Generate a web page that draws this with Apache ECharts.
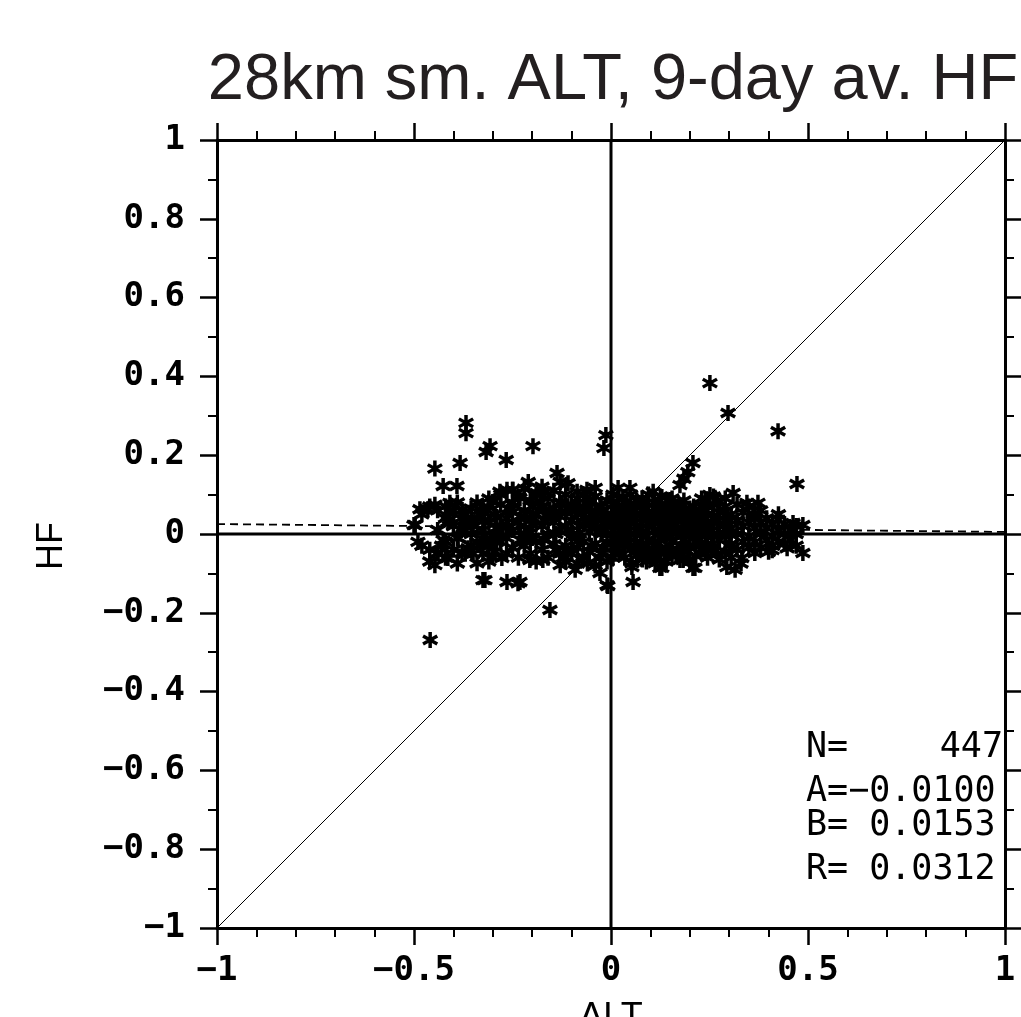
<!DOCTYPE html>
<html>
<head>
<meta charset="utf-8">
<script src="https://cdn.jsdelivr.net/npm/echarts@6/dist/echarts.min.js"></script>
<style>
html,body{margin:0;padding:0;background:#fff;}
#chart{width:1021px;height:1017px;}
</style>
</head>
<body>
<div id="chart"></div>
<script>
// ---------- data ----------
const titleText = '28km sm. ALT, 9-day av. HF';
const xName = 'ALT';
const yName = 'HF';
const xTicks = [-1, -0.5, 0, 0.5, 1];
const yTicks = [-1, -0.8, -0.6, -0.4, -0.2, 0, 0.2, 0.4, 0.6, 0.8, 1];
const statLabels = ['N=', 'A=', 'B=', 'R='];
const statValues = ['447', '\u22120.0100', ' 0.0153', ' 0.0312'];
const regA = -0.0100;   // slope shown as A
const regB = 0.0153;    // intercept shown as B
const diagonalLine = [[-1, -1], [1, 1]];
const zeroH = [[-1, 0], [1, 0]];
const zeroV = [[0, -1], [0, 1]];
const regLine = [[-1, regB - regA], [1, regB + regA]];

// scatter points [ALT, HF]
const scatterPoints = [
  // outliers / edges
  [-0.459,-0.269],[-0.368,0.282],[-0.368,0.256],[-0.317,0.208],[-0.307,0.223],
  [-0.383,0.18],[-0.447,0.166],[-0.426,0.122],[-0.391,0.122],[-0.266,0.188],
  [-0.198,0.223],[-0.013,0.251],[-0.018,0.218],[0.251,0.383],[0.297,0.307],
  [0.424,0.261],[0.472,0.127],[0.208,0.18],[0.195,0.157],[0.175,0.124],[0.185,0.14],
  [-0.137,0.155],[-0.21,0.132],[-0.25,0.112],[-0.04,0.117],[-0.17,0.107],
  [-0.264,-0.122],[-0.231,-0.122],[-0.155,-0.193],[-0.091,-0.091],[-0.008,-0.132],[-0.028,-0.061],
  [-0.32,-0.117],[-0.34,-0.074],[-0.447,-0.079],[-0.49,-0.02],[-0.5,0.023],[-0.485,0.063],
  [-0.465,0.063],[-0.447,0.074],[-0.409,0.079],[-0.41,0.036],[-0.41,0.058],
  [0.056,-0.122],[0.053,-0.084],[0.112,-0.074],[0.129,-0.086],[0.213,-0.086],[0.294,-0.084],
  [0.315,-0.091],[0.332,-0.061],[0.365,-0.048],[0.409,-0.041],[0.447,-0.036],[0.487,-0.048],
  [0.487,0.023],[0.462,0.028],[0.424,0.036],[0.373,0.079],[0.345,0.079],[0.31,0.104],
  [0.251,0.099],[0.175,-0.066],[0.018,0.117],[0.048,0.117],[0.107,0.107],[0.15,0.086],[0.175,0.069],
  [-0.378,0.061],[-0.332,0.061],[-0.312,0.069],[-0.282,0.107],[-0.264,0.112],[-0.3,0.081],
  [-0.353,0.036],[-0.29,0.043],[-0.426,-0.015],[-0.388,-0.01],[-0.439,-0.048],[-0.414,-0.061],
  [-0.378,-0.048],[-0.363,-0.036],[-0.332,-0.028],[-0.315,-0.015],[-0.29,-0.02],[-0.3,-0.058],
  [-0.277,-0.061],[-0.366,0.018],[-0.236,-0.125],[-0.497,0.023],[-0.414,0.03],
  [-0.249,0.112],[-0.231,0.091],[-0.188,0.104],[-0.168,0.107],[-0.129,0.132],[-0.109,0.129],
  [-0.086,0.107],[-0.061,0.112],[-0.053,0.086],[-0.028,0.069],[-0.256,0.061],[-0.198,0.069],
  [-0.18,0.081],[-0.155,0.061],[-0.124,0.079],[-0.099,0.061],[-0.074,0.053],[-0.048,0.036],
  [-0.01,0.028],[-0.274,0.018],[-0.218,-0.015],[-0.206,-0.066],[-0.173,-0.066],[-0.129,-0.079],
  [-0.071,-0.058],[-0.028,-0.099],[-0.01,-0.13],
  [0.079,0.091],[0.091,0.079],[0.129,0.094],[0.239,0.086],[0.246,0.069],[0.03,0.094],
  [0.018,0.061],[0.053,0.061],[0.112,0.043],[0.155,0.036],[0.053,-0.074],[0.104,-0.058],
  [0.124,-0.086],[0.208,-0.086],[0.183,-0.066],[0.239,-0.048],
  // main band, left part
  [-0.48,0.05],[-0.48,-0.03],
  [-0.46,0.07],[-0.46,-0.04],[-0.46,-0.07],
  [-0.44,0.06],[-0.44,0.01],[-0.44,-0.05],
  [-0.42,0.04],[-0.42,-0.02],[-0.42,-0.06],[-0.42,0.07],
  [-0.40,0.02],[-0.40,-0.04],[-0.40,0.06],
  [-0.39,-0.01],[-0.39,0.08],
  [-0.37,0.03],[-0.37,-0.05],[-0.37,0.05],
  [-0.355,0.0],[-0.355,-0.03],[-0.355,0.065],
  [-0.34,0.04],[-0.34,-0.02],[-0.34,0.08],
  [-0.325,0.01],[-0.325,-0.05],[-0.325,0.055],
  [-0.31,0.03],[-0.31,-0.03],[-0.31,0.09],[-0.31,-0.07],
  [-0.295,0.0],[-0.295,0.05],[-0.295,-0.045],
  [-0.28,0.02],[-0.28,-0.02],[-0.28,0.075],[-0.28,0.10],
  [-0.265,0.04],[-0.265,-0.05],[-0.265,-0.01],
  [-0.25,0.08],[-0.25,0.01],[-0.25,-0.035],[-0.25,0.055],
  [-0.235,-0.06],[-0.235,0.03],[-0.235,0.095],
  [-0.22,0.0],[-0.22,0.06],[-0.22,-0.03],[-0.22,0.115],
  [-0.205,0.04],[-0.205,-0.05],[-0.205,0.085],[-0.205,0.015],
  [-0.19,-0.02],[-0.19,0.05],[-0.19,0.1],[-0.19,-0.07],
  [-0.175,0.02],[-0.175,-0.04],[-0.175,0.07],[-0.175,0.12],
  [-0.16,0.0],[-0.16,0.045],[-0.16,-0.06],[-0.16,0.09],
  [-0.145,0.03],[-0.145,-0.025],[-0.145,0.11],[-0.145,0.065],
  [-0.13,-0.05],[-0.13,0.01],[-0.13,0.08],[-0.13,0.045],
  [-0.115,0.02],[-0.115,-0.03],[-0.115,0.1],[-0.115,0.055],[-0.115,-0.07],
  [-0.10,0.035],[-0.10,-0.01],[-0.10,0.075],[-0.10,-0.05],
  [-0.085,0.0],[-0.085,0.05],[-0.085,0.09],[-0.085,-0.035],[-0.085,-0.075],
  [-0.07,0.025],[-0.07,-0.02],[-0.07,0.065],[-0.07,0.1],[-0.07,-0.06],
  [-0.055,0.04],[-0.055,-0.045],[-0.055,0.005],[-0.055,0.08],
  [-0.04,0.015],[-0.04,0.055],[-0.04,-0.025],[-0.04,-0.08],[-0.04,0.095],
  [-0.025,0.0],[-0.025,0.035],[-0.025,-0.05],[-0.025,0.07],
  [-0.01,0.02],[-0.01,-0.02],[-0.01,0.05],[-0.01,-0.07],[-0.01,0.085],
  // main band, right part
  [0.005,0.01],[0.005,0.045],[0.005,-0.035],[0.005,0.075],[0.005,-0.06],[0.005,0.1],
  [0.02,-0.01],[0.02,0.03],[0.02,0.06],[0.02,-0.045],[0.02,0.09],
  [0.035,0.015],[0.035,-0.025],[0.035,0.045],[0.035,-0.06],[0.035,0.08],
  [0.05,0.0],[0.05,0.035],[0.05,0.065],[0.05,-0.04],[0.05,0.1],
  [0.065,0.02],[0.065,-0.02],[0.065,0.05],[0.065,-0.055],[0.065,0.085],
  [0.08,0.005],[0.08,0.04],[0.08,-0.035],[0.08,0.07],[0.08,-0.065],
  [0.095,0.025],[0.095,-0.015],[0.095,0.055],[0.095,-0.05],[0.095,0.1],
  [0.11,0.01],[0.11,0.045],[0.11,-0.03],[0.11,0.08],[0.11,-0.06],
  [0.125,0.03],[0.125,-0.01],[0.125,0.06],[0.125,-0.045],[0.125,0.095],
  [0.14,0.0],[0.14,0.04],[0.14,-0.035],[0.14,0.075],[0.14,-0.07],
  [0.155,0.02],[0.155,-0.02],[0.155,0.055],[0.155,-0.055],[0.155,0.09],
  [0.17,0.005],[0.17,0.035],[0.17,-0.04],[0.17,0.07],
  [0.185,0.025],[0.185,-0.015],[0.185,0.05],[0.185,-0.06],[0.185,0.085],
  [0.2,0.0],[0.2,0.04],[0.2,-0.035],[0.2,0.065],
  [0.215,0.02],[0.215,-0.02],[0.215,0.055],[0.215,-0.055],
  [0.23,-0.005],[0.23,0.035],[0.23,-0.04],[0.23,0.07],[0.23,0.09],
  [0.245,0.015],[0.245,-0.025],[0.245,0.05],[0.245,-0.06],
  [0.26,0.0],[0.26,0.04],[0.26,-0.04],[0.26,0.075],[0.26,0.095],
  [0.275,0.02],[0.275,-0.015],[0.275,0.055],[0.275,-0.065],
  [0.29,-0.005],[0.29,0.035],[0.29,-0.045],[0.29,0.07],[0.29,0.09],
  [0.305,0.015],[0.305,-0.025],[0.305,0.05],[0.305,-0.06],
  [0.32,0.0],[0.32,0.035],[0.32,-0.04],[0.32,0.075],
  [0.335,0.02],[0.335,-0.02],[0.335,0.055],
  [0.35,-0.005],[0.35,0.03],[0.35,-0.035],[0.35,0.07],
  [0.365,0.015],[0.365,-0.02],[0.365,0.045],
  [0.38,0.0],[0.38,0.03],[0.38,-0.035],[0.38,0.06],
  [0.395,0.015],[0.395,-0.015],[0.395,0.04],
  [0.41,-0.005],[0.41,0.025],[0.41,-0.03],
  [0.425,0.01],[0.425,-0.02],[0.425,0.05],
  [0.44,0.0],[0.44,0.025],[0.44,-0.025],
  [0.455,0.01],[0.455,-0.015],
  [0.47,0.0],[0.47,0.02],[0.47,-0.03],
  // dense core, second pass
  [-0.38,0.01],[-0.38,0.04],[-0.35,0.02],[-0.32,0.035],[-0.32,-0.015],
  [-0.29,0.015],[-0.29,-0.01],[-0.26,0.02],[-0.26,0.065],
  [-0.23,0.02],[-0.23,-0.015],[-0.23,0.045],
  [-0.2,0.025],[-0.2,-0.01],
  [-0.17,0.035],[-0.17,-0.015],[-0.17,0.06],
  [-0.14,0.0],[-0.14,-0.04],[-0.14,0.05],
  [-0.11,0.01],[-0.11,0.065],[-0.11,-0.045],
  [-0.08,0.02],[-0.08,-0.015],[-0.08,0.07],
  [-0.05,0.03],[-0.05,-0.03],[-0.05,0.06],
  [-0.02,0.01],[-0.02,0.045],[-0.02,-0.035],
  [0.01,0.025],[0.01,-0.015],[0.01,0.06],[0.01,-0.05],
  [0.03,0.005],[0.03,0.04],[0.03,-0.03],[0.03,0.07],
  [0.045,0.02],[0.045,-0.01],[0.045,0.055],
  [0.06,0.03],[0.06,-0.03],[0.06,0.075],[0.06,0.0],
  [0.075,0.015],[0.075,0.05],[0.075,-0.045],
  [0.09,0.035],[0.09,-0.005],[0.09,0.065],[0.09,-0.03],
  [0.105,0.02],[0.105,-0.04],[0.105,0.055],
  [0.12,0.0],[0.12,0.035],[0.12,0.07],[0.12,-0.025],
  [0.135,0.015],[0.135,0.05],[0.135,-0.05],
  [0.15,0.03],[0.15,-0.005],[0.15,0.065],[0.15,-0.03],
  [0.165,0.01],[0.165,0.045],[0.165,-0.05],
  [0.18,0.035],[0.18,0.0],[0.18,-0.03],[0.18,0.06],
  [0.195,0.015],[0.195,0.05],[0.195,-0.045],
  [0.21,0.03],[0.21,-0.01],[0.21,0.07],
  [0.225,0.01],[0.225,0.045],[0.225,-0.03],
  [0.24,0.025],[0.24,-0.005],[0.24,0.06],
  [0.255,0.02],[0.255,-0.035],
  [0.27,0.0],[0.27,0.035],[0.27,-0.05],
  [0.285,0.02],[0.285,0.055],
  [0.3,0.0],[0.3,-0.03],[0.3,0.035],
  [-0.325,-0.117],[-0.35,-0.05],[-0.39,-0.075],[-0.43,-0.03],[0.36,0.05],[0.4,-0.045],
  [0.33,-0.075],[0.2,-0.07],[0.09,-0.07],[-0.06,-0.075],[-0.12,-0.06],[-0.2,0.04],[0.27,0.085]
];

// ---------- chart ----------
const asterisk = 'path://M-1.7,-8L1.7,-8L1.7,8L-1.7,8Z' +
  'M-6.08,-5.47L7.78,2.53L6.08,5.47L-7.78,-2.53Z' +
  'M7.78,-2.53L-6.08,5.47L-7.78,2.53L6.08,-5.47Z';

const tickFont = {fontFamily: 'DejaVu Sans Mono', fontWeight: 'bold', fontSize: 34, color: '#000'};
const fmt = v => String(+v.toFixed(2)).replace('-', '\u2212');

function xAxisCfg(pos, showLabel) {
  return {
    type: 'value', position: pos,
    min: xTicks[0], max: xTicks[xTicks.length - 1], interval: xTicks[1] - xTicks[0],
    name: showLabel ? xName : '', nameLocation: 'middle', nameGap: 72,
    nameTextStyle: {fontFamily: 'Liberation Sans', fontSize: 36, color: '#000'},
    axisLine: {show: true, onZero: false, lineStyle: {color: '#000', width: 3}},
    axisTick: {show: true, inside: false, length: 17, lineStyle: {color: '#000', width: 2.5}},
    minorTick: {show: true, splitNumber: 5, length: 9, lineStyle: {color: '#000', width: 2}},
    splitLine: {show: false}, minorSplitLine: {show: false},
    axisLabel: Object.assign({show: showLabel, margin: 26, formatter: fmt, showMinLabel: true, showMaxLabel: true}, tickFont)
  };
}
function yAxisCfg(pos, showLabel) {
  return {
    type: 'value', position: pos,
    min: yTicks[0], max: yTicks[yTicks.length - 1], interval: +(yTicks[1] - yTicks[0]).toFixed(2),
    name: showLabel ? yName : '', nameLocation: 'middle', nameGap: 147, nameRotate: 90,
    nameTextStyle: {fontFamily: 'Liberation Sans', fontSize: 36, color: '#000', padding: [0, 24, 0, 0]},
    axisLine: {show: true, onZero: false, lineStyle: {color: '#000', width: 3}},
    axisTick: {show: true, inside: false, length: 17, lineStyle: {color: '#000', width: 2.5}},
    minorTick: {show: true, splitNumber: 2, length: 9, lineStyle: {color: '#000', width: 2}},
    splitLine: {show: false}, minorSplitLine: {show: false},
    axisLabel: Object.assign({show: showLabel, margin: 32, formatter: fmt, showMinLabel: true, showMaxLabel: true}, tickFont)
  };
}

const chart = echarts.init(document.getElementById('chart'), null, {renderer: 'canvas'});
const statFont = {fontFamily: 'DejaVu Sans Mono', fontSize: 35, fill: '#000'};
const statY = [748, 792, 826, 870];
const graphics = [
  {type: 'text', style: {text: titleText, x: 613, y: 81, textAlign: 'center', textVerticalAlign: 'middle',
    fontFamily: 'Liberation Sans', fontSize: 65, fill: '#231f20'}}
];
statLabels.forEach((lab, i) => {
  if (i === 0) {
    graphics.push({type: 'text', style: Object.assign({text: lab, x: 806, y: statY[i], textAlign: 'left', textVerticalAlign: 'middle'}, statFont)});
    graphics.push({type: 'text', style: Object.assign({text: statValues[i], x: 1003, y: statY[i], textAlign: 'right', textVerticalAlign: 'middle'}, statFont)});
  } else {
    graphics.push({type: 'text', style: Object.assign({text: lab + statValues[i], x: 806, y: statY[i], textAlign: 'left', textVerticalAlign: 'middle'}, statFont)});
  }
});

chart.setOption({
  animation: false,
  backgroundColor: '#fff',
  grid: {left: 217, top: 140, width: 788, height: 788, containLabel: false, outerBoundsMode: 'none'},
  xAxis: [xAxisCfg('bottom', true), xAxisCfg('top', false)],
  yAxis: [yAxisCfg('left', true), yAxisCfg('right', false)],
  graphic: graphics,
  series: [
    {type: 'line', data: diagonalLine, symbol: 'none', lineStyle: {color: '#000', width: 1}, z: 2, silent: true},
    {type: 'line', data: regLine, symbol: 'none', lineStyle: {color: '#000', width: 1.8, type: [8, 5]}, z: 2, silent: true},
    {type: 'line', data: zeroH, symbol: 'none', lineStyle: {color: '#000', width: 3}, z: 2, silent: true},
    {type: 'line', data: zeroV, symbol: 'none', lineStyle: {color: '#000', width: 3}, z: 2, silent: true},
    {type: 'scatter', data: scatterPoints, symbol: asterisk, symbolSize: [16, 16],
      itemStyle: {color: '#000', opacity: 1}, z: 3, silent: true}
  ]
});
</script>
</body>
</html>
